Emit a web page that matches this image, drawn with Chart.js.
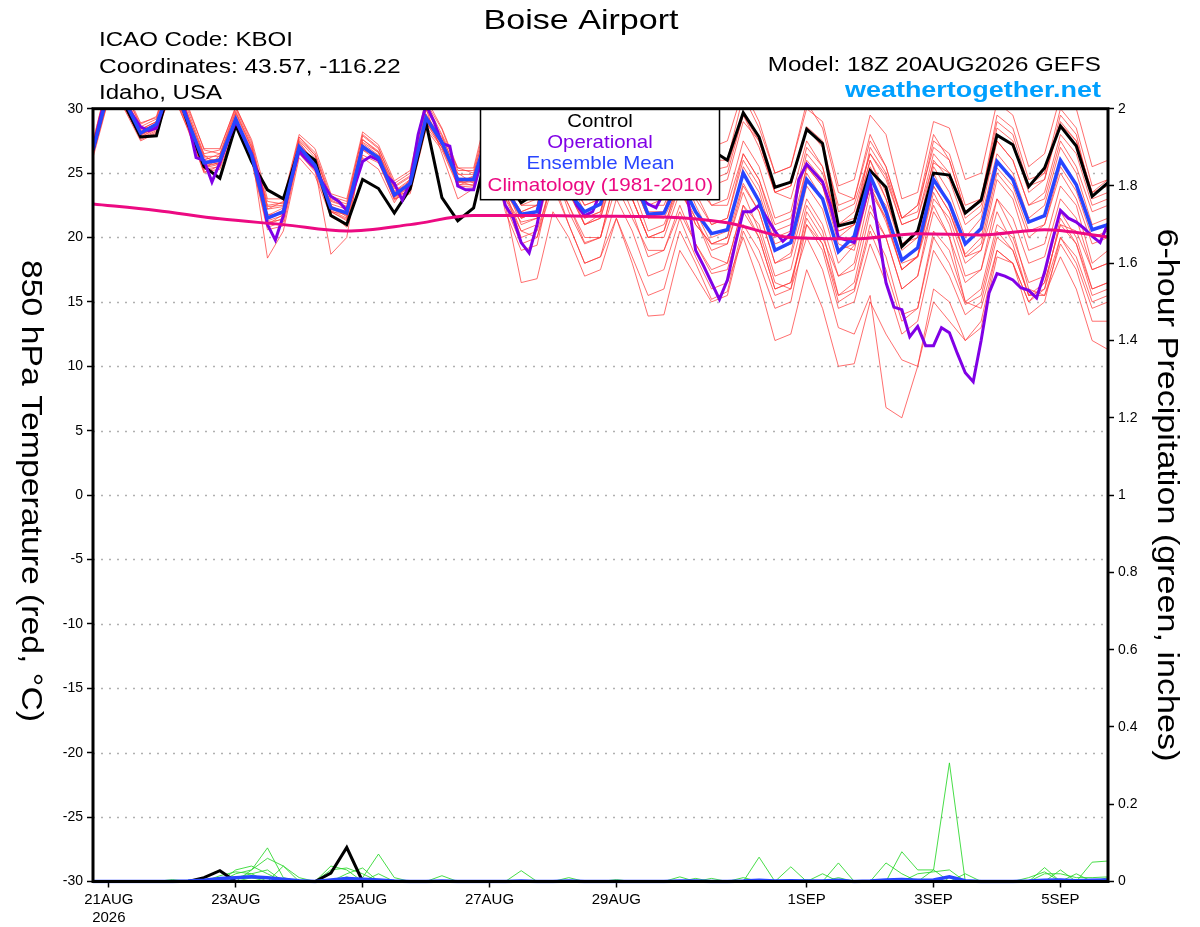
<!DOCTYPE html>
<html>
<head>
<meta charset="utf-8">
<title>Boise Airport - GEFS 850 hPa Temperature</title>
<script src="https://cdn.jsdelivr.net/npm/chart.js@4.4.1/dist/chart.umd.min.js"></script>
<style>
  html, body { margin: 0; padding: 0; background: #fff; }
  #wrap { width: 1200px; height: 927px; }
</style>
</head>
<body>
<div id="wrap"><canvas id="gefsChart" width="1200" height="927"></canvas></div>
<script>
/* ===========================================================
   DATA  (hours after 18Z 20AUG2026, 6-hourly unless noted)
=========================================================== */

// x axis ticks
const tickHours  = [6, 54, 102, 150, 198, 270, 318, 366];
const tickLabels = [['21AUG', '2026'], '23AUG', '25AUG', '27AUG', '29AUG', '1SEP', '3SEP', '5SEP'];

// 850 hPa temperature, deg C
const controlTemp = [26.8,31.7,30.3,27.8,27.9,32.5,28.8,25.5,24.6,28.7, 25.9,23.7,23.0,26.9,26.0,21.7,21.0,24.5,23.8,21.9,
  23.8,28.9,23.1,21.3,22.3, 27.5,24.5,22.7,23.5,28.0, 25.5,24.5,24.0,28.5,26.5, 24.5,24.5,28.5,27.5,26.8,
  26.0,29.7,27.8,23.9,24.3, 28.4,27.3,20.9,21.2,25.2, 23.9,19.3,20.5,25.0,24.85, 21.9,22.9,27.95,27.2,23.95,
  25.4,28.65,27.1,23.2,24.25];

const meanTemp = [26.8,31.5,30.6,28.1,28.8,32.0,29.0,25.8,26.0,29.2, 26.4,21.5,22.0,27.05,25.6,22.3,21.9,27.05,26.2,23.3,
  24.2,29.3,27.4,24.5,24.5, 28.5,23.8,21.8,22.0,27.0, 23.5,22.0,22.6,27.0,25.0, 21.8,21.9,24.5,22.0,20.3,
  20.6,25.0,22.8,19.0,19.6, 24.5,23.0,18.9,20.1,24.8, 22.0,18.25,19.2,24.5,22.65, 19.5,20.7,25.9,24.5,21.2,
  21.7,26.0,24.1,20.6,21.0];

// operational run, 3-hourly
const operTemp = [26.8,29.5,31.5,31.0,30.5,29.5,28.6,28.3,28.5,30.5, 32.0,31.0,29.0,26.2,26.0,24.3,25.8,27.5,29.0,27.8,
  26.5,24.5,21.0,19.8,21.7,24.5,26.7,26.0,25.4,24.2, 23.2,22.8,22.1,24.0,25.9,26.3,26.0,24.8,24.2,22.9,
  24.3,28.0,30.3,29.0,27.3,27.1,24.0,23.7,23.7,26.0, 27.5,25.0,22.5,21.5,19.6,18.8,21.0,24.0,26.5,25.5,
  24.0,22.5,21.7,22.0,23.5,26.0,27.0,26.0,24.5,23.0, 22.6,22.3,23.5,25.0,25.0,23.0,19.0,17.8,16.5,15.2,
  16.7,19.5,22.0,22.0,22.5,21.5,20.5,19.7,20.3,24.5, 25.7,25.0,24.3,22.5,20.0,19.8,19.6,22.0,24.3,20.5,
  16.5,14.6,14.4,12.3,13.1,11.6,11.6,13.0,12.6,11.0, 9.5,8.8,12.0,15.7,17.2,17.0,16.7,16.1,15.9,15.3,
  17.3,19.8,22.1,21.5,21.2,20.7,20.1,19.6,21.1];

// 1981-2010 climatology, daily at 18Z
const climTemp = [22.6,22.1,21.45,21.0,20.5,21.0,21.7,21.7,21.65,21.6,21.15,20.0,19.9,20.3,20.2,20.6,20.05];

// ensemble members
const mem01 = [27.2,32,31,28.5,28.6,33,29.5,26.4,25.5,29.6, 26.8,22.8,22.6,27.5,26.2,22.5,21.6,26.2,25.3,22.7, 24.6,30,26.5,23,23.8,
  28.8,25,23.5,24.2,29.5, 27,24.8,25,29.6,27.5, 25.2,25.5,29.2,27.2,25.2,
  25.5,29.5,27,23.5,24, 28.6,27.5,22,22.6,26.5, 24.8,21,21.5,25.8,25, 22,22.8,28,27.2,24, 25,28.8,27.5,23.5,24.5];
const mem02 = [26.5,31.2,30.2,27.6,28.2,31.6,28.6,25.2,26.4,29.8, 27,21.2,21.4,26.6,25.2,22.8,22.4,27.4,26.6,23.8, 23.9,28.8,27.8,25,24.2,
  28,23,21.2,21.5,26.5, 24,21,21.8,26.5,24, 20.5,21,24,21,19.5,
  20,24.2,22,18,18.8, 24,22.2,18,19.4,24, 21.2,17.5,18.6,24,22, 18.7,20,25.4,24,20.5, 21,25.5,23.6,20,20.5];
const mem03 = [27,31.8,30.8,28.4,29,32.4,29.3,26,26.5,28.8, 26,21,21.8,27.4,25.8,22,21.4,27.6,26.6,23.6, 24.5,29.6,27.6,24.2,24.8,
  27.5,22,19,19.4,25, 22.5,19.6,20,25,22, 18.5,19,22.5,19.5,17.2,
  17.5,22,20,16,16.5, 21.5,19.5,15,15.8,20.5, 17.5,13.5,14.5,20,18, 14.8,15.5,20.5,19,15.5, 16,20,18,14.5,15];
const mem04 = [26.6,31,30,27.8,28.5,31.8,28.8,25.5,25.8,29, 26.2,20.8,21.2,26.8,25.4,18.7,20,27.2,26,23, 24,29,27,24.4,24,
  28,23.5,21.5,22,27, 24.5,22,22.5,26.5,24.5, 21.5,21.5,24,21,19.5,
  19.5,23.5,20.5,16.5,16, 20,17.5,13,12.5,15.5, 6.8,6,10,16,15, 12,13,18.5,18,15, 16.5,21,20.5,17.5,18];
const mem05 = [27.4,32.5,31.2,28.8,29.4,33.5,30.2,26.8,26.5,30, 27.2,22.2,22.8,27.8,26.4,23,22.6,28,27,24, 24.8,30.5,28.4,25.2,25.2,
  30,26.5,24,24.5,30.5, 28,25.5,26,30.5,28.5, 25.5,25.5,30,28,26,
  26,31,28.5,25,25.5, 30,29,24,24.5,29.5, 28,23,23.5,29,28.5, 24.5,25,30.5,29.5,25.5, 26.5,31,30,25.5,26];
const mem06 = [26.2,30.8,30.4,27.8,28.4,31.2,28.4,25,25.6,29.2, 26.6,18.4,20.5,26.2,24.8,21.6,21,26.8,26.2,23.2, 23.6,28.6,27,24.6,24.6,
  27,22.5,16.5,16.8,22, 20,17,17.5,21.5,18.5, 15.5,16,20.5,18,15.2,
  15.8,21,19,15.5,16, 22,20,17,18,23.5, 21.5,17.5,18.5,24,22, 18.5,19.5,25,23.5,20, 21,25,23,19.5,20];
const mem07 = [26.9,31.4,30.9,28.2,28.9,32.2,29.2,26.2,25.9,28.9, 26.6,22.2,22.4,27.2,25.7,22,21.8,27.3,26.4,23.5, 24.4,29.5,27.6,24,24.6,
  29,25,22.5,23,28, 25.5,23,23.5,28,26, 23,23,26.5,24,22.5,
  22.5,26.5,24.5,21,21.5, 26,24.5,20.5,21,26, 23.5,19.5,20.5,26,24.5, 21,22,27.5,26,22.5, 23,27.5,25.5,22,22.5];
const mem08 = [26.7,31.1,30.5,28,28.7,31.9,29.1,25.6,26.2,29.4, 26.3,21.8,21.8,27.1,25.5,22.2,21.7,27.1,26.3,23.4, 24.2,29.2,27.3,24.4,24.4,
  28.5,24,21,21.5,26.5, 23.5,21,21.5,26,23, 20,20.5,25,22,19.5,
  20,25.5,23.5,19.5,20, 25,23,19,19.5,24, 21.5,17.5,18.5,23.5,21, 17,17.5,22,19.5,15.5, 15.5,18.5,16,12,11.3];
const mem09 = [27.1,31.6,30.7,28.3,28.8,32.3,28.9,25.9,26.1,29.4, 26.5,21.4,22.1,27,25.7,22.4,22,27.1,26.1,23.2, 24.3,29.4,27.5,24.6,24.5,
  28,23.5,20,20.5,24.5, 21,18,18.5,21.5,18, 13.9,14,19,17,15,
  15.5,20.5,18,14.5,15, 21,19.5,15.5,16.5,22, 20,16,17,23,21.5, 18,19,24.5,23,19, 19.5,24,22.5,18,19];
const mem10 = [27.3,32.2,31.4,28.6,29.2,33,29.8,26.5,26.8,30.2, 27.4,22.4,22.5,27.8,26.6,23.2,22.8,27.9,26.9,24.2, 25,30.4,28,25.4,25,
  29.5,26,23.5,23.5,29, 26.5,24.5,24.5,29,27, 24,24.5,28.5,26.5,24,
  24.5,29,27.5,23.5,23, 27.5,25.5,20.5,21,27, 25,21.5,22,27.5,26.5, 22.5,23,29,28,24, 24.5,29.5,28,23,23.5];
const mem11 = [26.4,30.9,29.9,27.5,28.1,31.4,28.3,25.1,25.3,28.6, 25.9,20.6,20.9,26.5,25.1,21.8,20.8,26.4,25.8,23, 23.4,28.4,26.8,24,23.9,
  27.5,23,20.5,20,25, 22.5,20,20,25,23, 20,20,23.5,21.5,18.5,
  18,22.5,21,17,17.5, 22.5,20.5,15.5,16,21, 18.5,14,14.5,20.5,19, 15,16,21,20,16.5, 17,22,20,16,16.5];
const mem12 = [26.9,31.3,30.3,28.1,28.9,32.1,29,25.7,26,29, 26.4,21.7,22.3,27.3,25.9,22.6,22.2,27.2,26.2,23.2, 24.1,29.1,27.2,24.3,24.7,
  28.5,24.5,22.5,22.5,27.5, 24.5,22.5,23,27.5,25, 22.5,22.5,25.5,23,21,
  21.5,26,24,20,20.5, 25.5,24,20,21,25.5, 23,19,20,25.5,23.5, 20,21.5,26.5,25,21.5, 22.5,27,25,21,21.5];
const mem13 = [26.6,31.2,30.6,27.9,28.6,31.7,28.7,25.4,25.7,29.3, 26.2,21.3,21.7,26.9,25.4,22.1,21.5,27,26,23.1, 24,29.2,27.3,24.3,24.3,
  28,24,22,22.5,27, 24,21.5,22,27,25, 22,22,25.5,22.5,20,
  20.5,25,23,19,19.5, 25.5,24,19.5,19,24, 22.5,18,18.5,22.5,20, 15,14.5,19,18,14, 15,20,18.5,15,15.5];
const mem14 = [27.5,32.4,31.5,28.9,29.3,33.2,30,26.9,26.9,30.1, 27.6,23,23,28,26.9,23.4,23,28.2,27.2,24.4, 25.2,30.8,28.5,25.4,25.4,
  30.5,27,24.5,25,30.5, 28.5,26,26,31,29, 26,26.5,31,29,27,
  27.5,31.5,29,25,25.5, 30.5,28.5,23.5,23,28, 25.5,21.5,22.5,28,26, 22,23,29.5,28.5,24.5, 25,30,28.5,24,24.5];
const mem15 = [26.8,31.5,30.5,28,28.5,32,28.9,25.7,25.9,29.1, 26.3,21.6,22,27,25.6,22.3,21.8,26.9,26.1,23.3, 24.2,29.2,27.3,24.4,24.4,
  27.5,22.5,19.5,20,24, 21,18,18.5,23,20.5, 17,17.5,21.5,18.5,16,
  16.5,20,16.5,12,12.5, 17.5,14.5,10,10.2,15, 12.5,10.5,10,15,13.5, 12,13.5,19,18,15, 16,21.5,19.5,16,16.5];
const mem16 = [26.5,31,30.1,27.7,28.3,31.5,28.5,25.3,25.5,28.9, 26.1,21,21.5,26.7,25.3,22,21.3,26.8,25.9,22.9, 23.8,28.9,27,24.1,24.1,
  27.8,23.5,20.5,21,25.5, 22,19.5,20,24,21.5, 19,19,22,19.5,17.5,
  18,22.5,20,16,16.5, 21,19,14.5,15,19.5, 16.5,12.5,13.5,19,17, 14,15,20,19,15.5, 16.5,21,19.5,15.5,16];
const mem17 = [27.2,31.9,30.9,28.4,29,32.6,29.5,26.3,26.3,29.7, 27,22.5,22.7,27.6,26.4,22.9,22.4,27.6,26.7,23.9, 24.7,29.9,27.9,24.9,24.9,
  29.5,25.5,23,23.5,29, 26.5,24,24.5,29.5,27.5, 24.5,25,29,27,24.5,
  25,29.5,27.5,23.5,24, 28.5,27,22.5,23,27.5, 25.5,21.5,22.5,27,26, 22,23,28.5,27.5,23.5, 24.5,29,27.5,23.5,24];
const mem18 = [26.7,31.3,30.4,28,28.6,31.9,28.9,25.6,25.8,29.1, 26.3,21.5,22,27,25.6,22.3,21.8,27.1,26.1,23.2, 24.1,29.1,27.2,24.4,24.4,
  28,24,21.5,22,26.5, 23.5,21,21.5,25.5,23, 20,20.5,24,21.5,19,
  19.5,24,22,18,18.5, 23,21,17,17.5,22.5, 20,16,17,22,20, 16.5,17.5,23,21.5,18, 18.5,23,21.5,17.5,18];
const mem19 = [26.9,31.5,30.6,28.2,28.8,32.2,29.1,25.8,26,29.3, 26.5,21.6,22.1,27.1,25.7,22.3,21.9,27,26.2,23.3, 24.3,29.3,27.4,24.5,24.5,
  28.5,24,21.5,22,27, 24,21.5,22,27,24.5, 21.5,22,26,23.5,21,
  21.5,26.5,24.5,20.5,21, 26.5,25,21,21.5,26, 23,19.5,20,25,22.5, 18.5,19,23,20.5,16, 15.5,19.5,17.5,13.5,13.5];
const mem20 = [26.8,31.4,30.5,28.1,28.7,32.1,29,25.8,26,29.2, 26.4,21.6,22,27.1,25.6,22.3,21.9,27,26.2,23.3, 24.2,29.2,27.4,24.5,24.5,
  28.5,24,22,22.5,27.5, 25,22.5,23,28,25.5, 22.5,23,27,25,22.5,
  23,27.5,25.5,21.5,22, 27,25.5,21,22,26.5, 24.5,21,21.5,26.5,25, 21.5,22.5,27.5,26,22.5, 23.5,28,26.5,22.5,23];
const memberTemps = [mem01, mem02, mem03, mem04, mem05, mem06, mem07, mem08, mem09, mem10,
                     mem11, mem12, mem13, mem14, mem15, mem16, mem17, mem18, mem19, mem20];

// 6-hour precipitation, inches
const controlPrecip = [0,0,0,0,0,0,0,0.01,0.028,0, 0,0,0,0,0,0.022,0.088,0,0,0, 0,0,0,0,0,
  0,0,0,0,0, 0,0,0,0,0, 0,0,0,0,0, 0,0,0,0,0, 0,0,0,0,0, 0,0,0,0,0, 0,0,0,0,0, 0,0,0,0,0];
const meanPrecip = [0,0,0,0,0,0,0.001,0.003,0.008,0.01, 0.012,0.01,0.006,0.002,0,0.004,0.008,0.006,0.004,0.001, 0,0,0.001,0,0,
  0,0,0.001,0,0, 0.001,0,0,0,0, 0,0,0.001,0.001,0, 0,0.001,0.003,0.001,0.002, 0.001,0.001,0.003,0,0.001,
  0.004,0.005,0.003,0.004,0.012, 0.002,0,0,0,0.001, 0.003,0.004,0.002,0.003,0.004];
const gm01 = [0,0,0,0,0,0,0,0,0,0, 0.03,0.087,0.01,0,0,0,0,0.01,0.071,0.01, 0,0,0,0,0,
  0,0,0,0,0, 0,0,0,0,0, 0,0,0,0,0, 0,0,0,0,0, 0,0,0,0,0, 0,0,0,0.03,0.307, 0,0,0,0,0, 0,0,0,0,0];
const gm02 = [0,0,0,0,0,0,0,0,0,0.02, 0.03,0.06,0.04,0.01,0,0.04,0.03,0,0,0, 0,0,0,0,0,
  0,0,0,0,0, 0,0,0,0,0, 0,0,0,0,0, 0,0,0.063,0,0.038, 0,0,0.048,0,0, 0,0,0,0,0, 0,0,0,0,0, 0.036,0,0,0,0];
const gm03 = [0,0,0,0,0,0,0.003,0,0.015,0.025, 0.02,0,0.04,0,0,0,0.02,0.035,0,0, 0,0,0,0,0,
  0,0,0.028,0,0, 0,0,0,0,0, 0,0,0,0,0, 0,0,0,0,0, 0,0,0,0,0, 0.048,0.02,0,0,0, 0,0,0,0,0, 0,0.03,0,0.05,0.053];
const gm04 = [0,0,0,0,0,0.005,0,0,0,0.03, 0.04,0.02,0,0,0,0.03,0.035,0.02,0,0, 0,0,0.015,0,0,
  0,0,0,0,0, 0,0,0,0,0, 0,0,0,0,0, 0,0,0,0,0, 0,0.02,0,0,0, 0,0.077,0.03,0.03,0, 0.02,0,0,0,0.01, 0.025,0,0.02,0,0];
const gm05 = [0,0,0,0,0,0,0,0,0,0.01, 0.02,0.03,0,0,0,0,0,0,0.02,0, 0,0,0,0,0,
  0,0,0,0,0, 0,0,0,0,0, 0,0,0.012,0,0.008, 0,0,0,0,0, 0.005,0,0.01,0,0, 0,0,0.02,0.025,0.03, 0,0,0,0,0, 0.02,0.02,0.01,0.01,0.012];
const gm06 = [0,0,0,0,0,0,0,0,0,0, 0.01,0,0,0,0,0,0.012,0,0,0, 0,0,0,0,0,
  0,0,0,0,0, 0.01,0,0,0.005,0, 0,0,0,0.008,0, 0,0.01,0,0,0, 0,0,0,0,0, 0,0,0,0,0, 0,0,0,0,0, 0,0,0,0,0.01];
const memberPrecip = [gm01, gm02, gm03, gm04, gm05, gm06];

/* ===========================================================
   STYLE
=========================================================== */
const FONT = '"Liberation Sans", Arial, Helvetica, sans-serif';
const C_CONTROL = '#000000';
const C_OPER = '#8000e6';
const C_MEAN = '#2845ff';
const C_CLIM = '#ec0a82';
const C_MEMBER = 'rgba(255, 55, 55, 0.8)';
const C_PRECIP = 'rgba(40, 215, 40, 0.95)';

Chart.defaults.font.family = FONT;
Chart.defaults.color = '#000';

const toPoints = (arr, step) => arr.map((v, i) => ({ x: i * step, y: v }));

function tempLine(label, arr, step, color, width) {
  return { label, data: toPoints(arr, step), yAxisID: 'y', borderColor: color, borderWidth: width, clip: 0 };
}
function precipLine(label, arr, color, width) {
  return { label, data: toPoints(arr, 6), yAxisID: 'y2', borderColor: color, borderWidth: width, clip: 2 };
}

// first dataset is painted on top
const datasets = [
  Object.assign(tempLine('Climatology (1981-2010)', climTemp, 24, C_CLIM, 3), { cubicInterpolationMode: 'monotone' }),
  tempLine('Ensemble Mean', meanTemp, 6, C_MEAN, 3.5),
  tempLine('Operational', operTemp, 3, C_OPER, 3),
  tempLine('Control', controlTemp, 6, C_CONTROL, 3),
  precipLine('Mean precip', meanPrecip, C_MEAN, 3.5),
  precipLine('Control precip', controlPrecip, C_CONTROL, 3),
  ...memberPrecip.map((arr, i) => precipLine('p' + (i + 1), arr, C_PRECIP, 0.9)),
  ...memberTemps.map((arr, i) => tempLine('m' + (i + 1), arr, 6, C_MEMBER, 0.9))
];

/* ===========================================================
   DRAW HELPERS
=========================================================== */

// draws text stretched horizontally to the width it has on the original plot
function fitText(ctx, txt, x, y, font, color, align, width, rot) {
  ctx.save();
  ctx.font = font;
  ctx.fillStyle = color;
  ctx.textAlign = 'left';
  ctx.textBaseline = 'alphabetic';
  const m = ctx.measureText(txt).width;
  ctx.translate(x, y);
  if (rot) ctx.rotate(rot);
  ctx.scale(width / m, 1);
  const off = align === 'center' ? -m / 2 : (align === 'right' ? -m : 0);
  ctx.fillText(txt, off, 0);
  ctx.restore();
}

const frame = {
  id: 'frame',
  beforeDatasetsDraw(chart) {
    const { ctx, chartArea: a } = chart;
    const y = chart.scales.y;
    ctx.save();
    ctx.strokeStyle = '#b0b0b0';
    ctx.lineWidth = 1.5;
    ctx.setLineDash([2, 6]);
    y.ticks.forEach(t => {
      if (t.value <= y.min || t.value >= y.max) return;
      const py = Math.round(y.getPixelForValue(t.value)) + 0.5;
      ctx.beginPath();
      ctx.moveTo(a.left, py);
      ctx.lineTo(a.right, py);
      ctx.stroke();
    });
    ctx.restore();
  },
  afterDatasetsDraw(chart) {
    const { ctx, chartArea: a } = chart;
    // legend box
    const bx = 480.5, bw = 239, bh = 91;
    ctx.save();
    ctx.fillStyle = '#fff';
    ctx.fillRect(bx, a.top, bw, bh);
    ctx.strokeStyle = '#000';
    ctx.lineWidth = 1.5;
    ctx.strokeRect(bx, a.top, bw, bh);
    // plot frame
    ctx.lineWidth = 3;
    ctx.strokeRect(a.left, a.top, a.right - a.left, a.bottom - a.top);
    ctx.restore();

    const lf = '19px ' + FONT;
    fitText(ctx, 'Control', 600, 126.5, lf, C_CONTROL, 'center', 65.6);
    fitText(ctx, 'Operational', 600, 147.8, lf, C_OPER, 'center', 105.5);
    fitText(ctx, 'Ensemble Mean', 600.5, 169.3, lf, C_MEAN, 'center', 148);
    fitText(ctx, 'Climatology (1981-2010)', 600.3, 191, lf, C_CLIM, 'center', 225.6);
  },
  afterDraw(chart) {
    const ctx = chart.ctx;
    fitText(ctx, 'Boise Airport', 581, 28.5, '28px ' + FONT, '#000', 'center', 195);
    fitText(ctx, 'ICAO Code: KBOI', 99, 45.8, '20px ' + FONT, '#000', 'left', 194);
    fitText(ctx, 'Coordinates: 43.57, -116.22', 99, 72.7, '20px ' + FONT, '#000', 'left', 301.5);
    fitText(ctx, 'Idaho, USA', 99, 99.3, '20px ' + FONT, '#000', 'left', 123);
    fitText(ctx, 'Model: 18Z 20AUG2026 GEFS', 1100.8, 70.7, '20px ' + FONT, '#000', 'right', 333);
    fitText(ctx, 'weathertogether.net', 1101, 96.5, 'bold 22px ' + FONT, '#00a0ff', 'right', 256);
    fitText(ctx, '850 hPa Temperature (red, \u00B0C)', 21.7, 491, '30px ' + FONT, '#000', 'center', 462, Math.PI / 2);
    fitText(ctx, '6-hour Precipitation (green, inches)', 1158, 495, '30px ' + FONT, '#000', 'center', 533, Math.PI / 2);
  }
};

/* ===========================================================
   CHART
=========================================================== */
const tickGrid = { drawOnChartArea: false, drawTicks: true, tickLength: 6, tickColor: '#000', tickWidth: 1.5 };

new Chart(document.getElementById('gefsChart'), {
  type: 'line',
  data: { datasets },
  options: {
    responsive: false,
    animation: false,
    devicePixelRatio: 1,
    layout: { padding: { top: 108.7, left: 0, right: 0, bottom: 0 } },
    elements: { point: { radius: 0 }, line: { tension: 0 } },
    plugins: { legend: { display: false }, tooltip: { enabled: false }, title: { display: false } },
    scales: {
      x: {
        type: 'linear', min: 0, max: 384,
        afterBuildTicks: s => { s.ticks = tickHours.map(v => ({ value: v })); },
        afterFit: s => { s.height = 45.5; },
        ticks: { autoSkip: false, maxRotation: 0, padding: 3, font: { size: 15 }, color: '#000',
                 callback: (v, i) => tickLabels[i] },
        grid: tickGrid,
        border: { display: false }
      },
      y: {
        position: 'left', min: -30, max: 30,
        afterFit: s => { s.width = 93; },
        ticks: { stepSize: 5, padding: 4, font: { size: 14 }, color: '#000' },
        grid: tickGrid,
        border: { display: false }
      },
      y2: {
        position: 'right', min: 0, max: 2,
        afterFit: s => { s.width = 92; },
        ticks: { stepSize: 0.2, padding: 4, font: { size: 14 }, color: '#000',
                 callback: v => String(Math.round(v * 10) / 10) },
        grid: tickGrid,
        border: { display: false }
      }
    }
  },
  plugins: [frame]
});
</script>
</body>
</html>
